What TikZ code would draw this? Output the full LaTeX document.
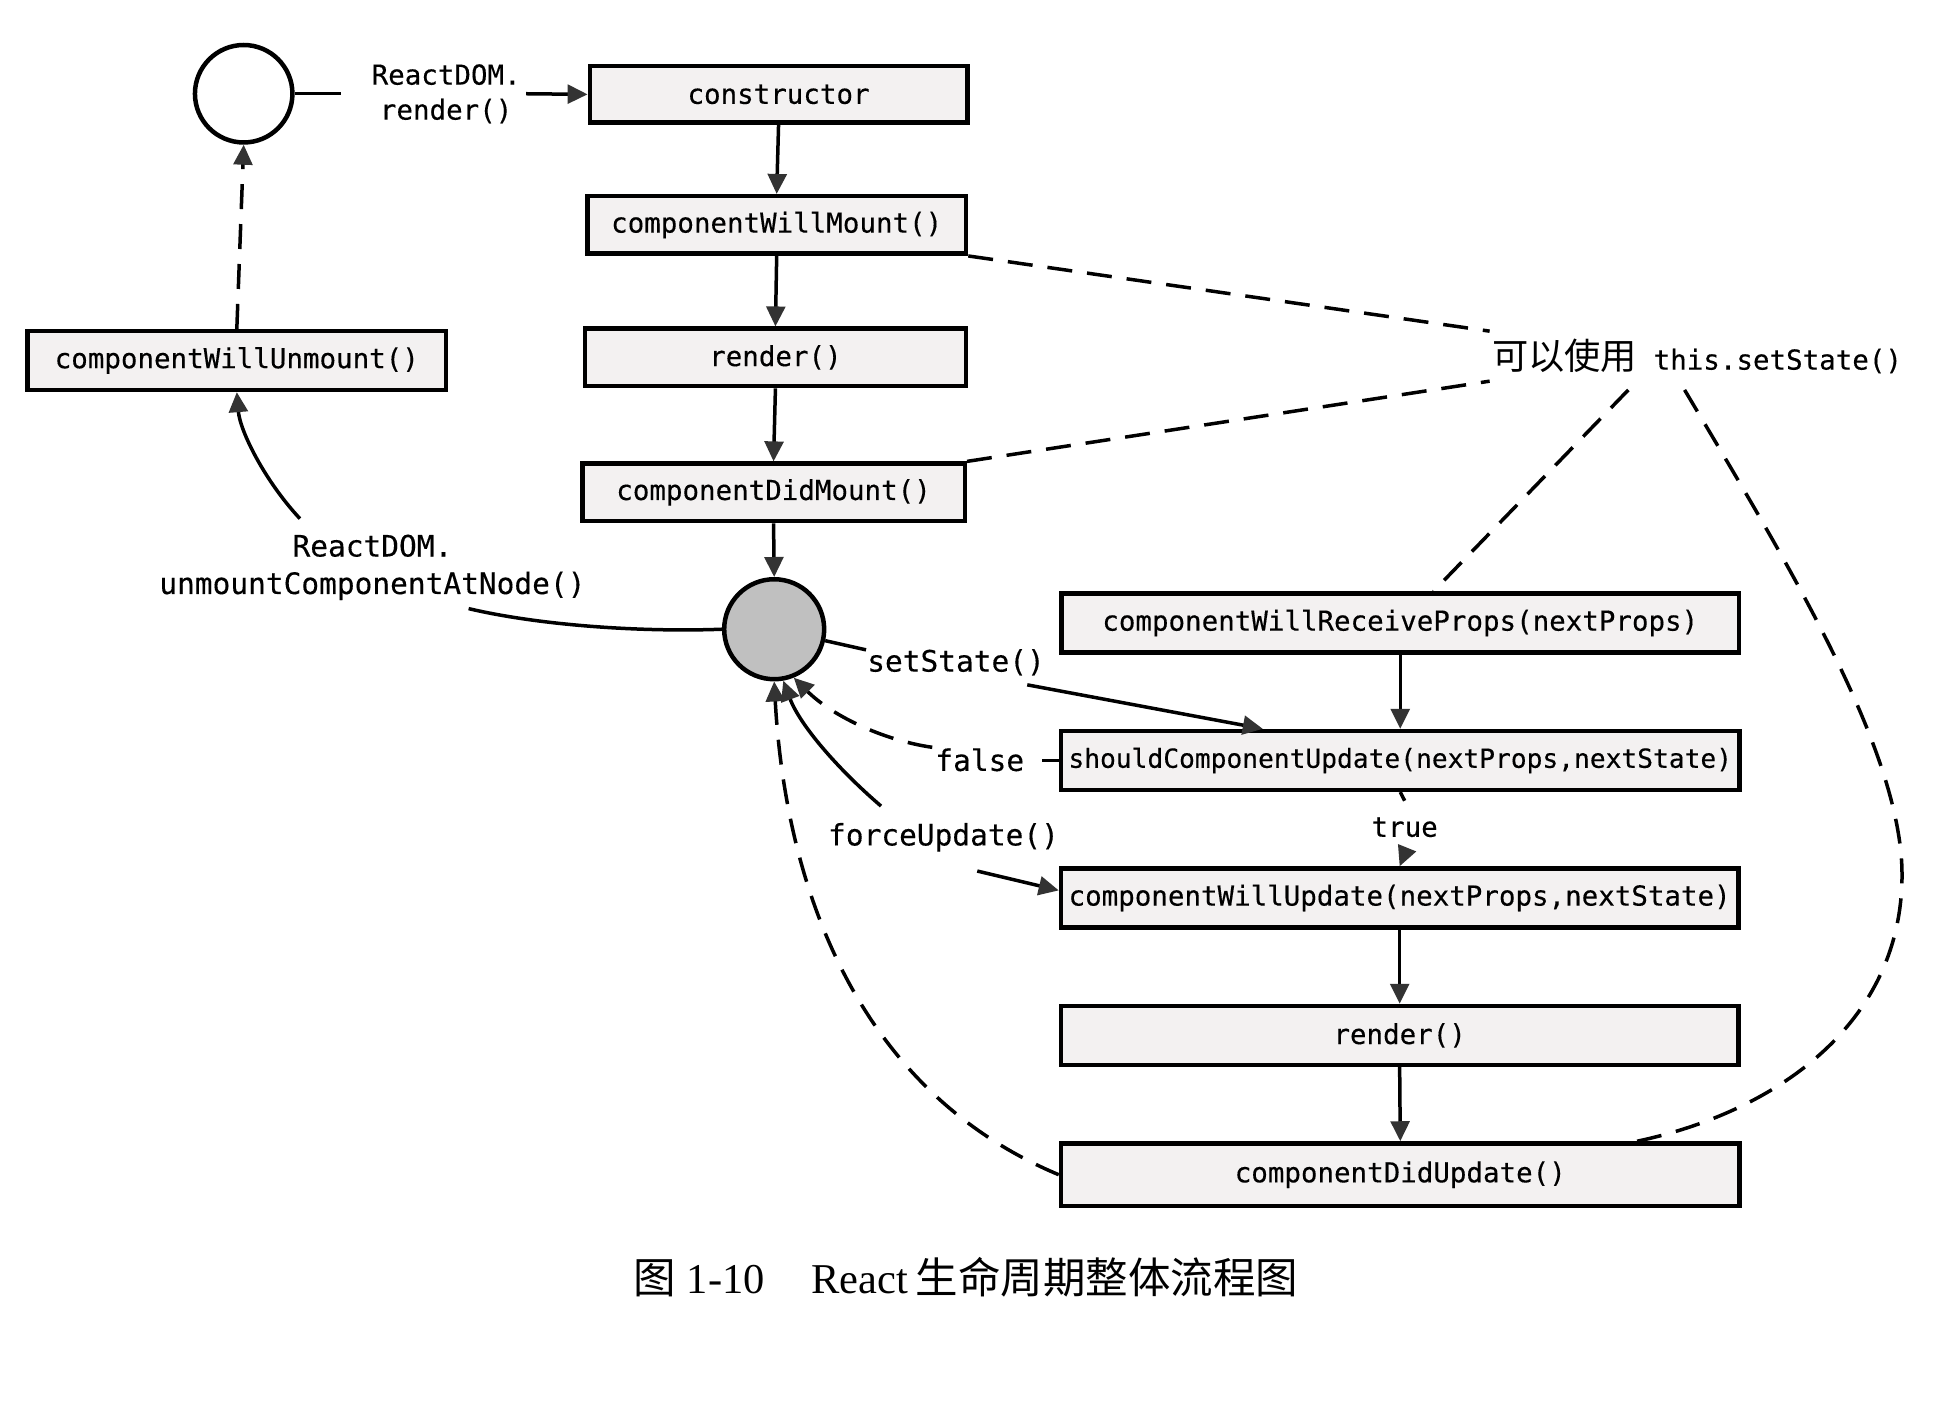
\documentclass[tikz,border=0pt]{standalone}
\usepackage{fontspec}
\setmainfont{Liberation Serif}
\setmonofont[FakeBold=0.3]{DejaVu Sans Mono}
\newfontfamily\cjk{Noto Sans CJK SC}
\usetikzlibrary{arrows.meta}
\definecolor{boxfill}{HTML}{F3F1F1}
\definecolor{circfill}{HTML}{C0C0C0}
\definecolor{tipgray}{HTML}{333333}
\begin{document}
\begin{tikzpicture}[x=0.5pt,y=-0.5pt,
  every node/.style={font=\fontsize{11}{14}\selectfont\ttfamily},
  box/.style={draw, line width=1.8pt, fill=boxfill, inner sep=0pt, minimum height=23pt},
  lbl/.style={inner sep=2pt, align=center},
  big/.style={font=\fontsize{11.8}{15}\selectfont\ttfamily},
  conn/.style={line width=1.4pt},
  arr/.style={conn, -{Triangle[length=8pt,width=7.5pt,color=tipgray]}},
  dsh/.style={conn, dash pattern=on 10pt off 6pt},
]
\fill[white] (0,0) rectangle (1562,1126.4);
\useasboundingbox (0,0) rectangle (1562,1126.4);

% mounting column
\node[draw, circle, line width=1.8pt, minimum size=39pt, inner sep=0pt] (c0) at (195,75) {};
\node[lbl] (rdr) at (357,75) {ReactDOM.\\render()};
\node[box, minimum width=151pt, minimum height=22.5pt] (ctor) at (623,75.5) {constructor};
\node[box, minimum width=151.5pt] (cwm) at (621.5,180) {componentWillMount()};
\node[box, minimum width=152.5pt] (rnd) at (620.5,286) {render()};
\node[box, minimum width=153pt] (cdm) at (619,394) {componentDidMount()};
\node[draw, circle, fill=circfill, line width=1.8pt, minimum size=40pt, inner sep=0pt] (gc) at (619.5,503.5) {};

% unmount
\node[box, minimum width=167.5pt, minimum height=23.5pt] (cwu) at (189.5,288.5) {componentWillUnmount()};
\node[lbl, big] (um) at (298,454) {ReactDOM.\\unmountComponentAtNode()};

% setState label
\node[lbl] (st) at (1358,285) {{\cjk\fontsize{14.5}{16}\selectfont 可以使用} this.setState()};

% update column
\node[box, minimum width=271pt, minimum height=23.5pt] (cwrp) at (1120.5,498.5) {componentWillReceiveProps(nextProps)};
\node[box, minimum width=271.5pt, minimum height=23.5pt, font=\fontsize{10.5}{13}\selectfont\ttfamily] (scu) at (1120.5,608.5) {shouldComponentUpdate(nextProps,nextState)};
\node[box, minimum width=271pt, minimum height=23.5pt] (cwup) at (1120,718.5) {componentWillUpdate(nextProps,nextState)};
\node[box, minimum width=271pt, minimum height=23.5pt] (rnd2) at (1120,828.5) {render()};
\node[box, minimum width=271.5pt, minimum height=25pt] (cdu) at (1120.5,940) {componentDidUpdate()};

% small labels
\node[lbl, big] (ss) at (765,530) {setState()};
\node[lbl, big] (fl) at (784,608) {false};
\node[lbl, big] (fu) at (755,670) {forceUpdate()};
\node[inner xsep=2pt, inner ysep=6.5pt] (tr) at (1124,662) {true};

% free ends near labels
\coordinate (umA) at (240,415);
\coordinate (umB) at (375,487);
\coordinate (ss1) at (693,520);
\coordinate (ss2) at (822,548);
\coordinate (fl1) at (834,608.5);
\coordinate (fl2) at (746,598);
\coordinate (fu1) at (705,645);
\coordinate (fu2) at (782,697);
\coordinate (st1) at (1192,265);
\coordinate (st2) at (1192,305);
\coordinate (st3) at (1303,312);
\coordinate (st4) at (1348,312);

% mounting connectors
\draw[conn] (c0) -- ([xshift=-10pt]rdr.west);
\draw[arr] (rdr.east) -- (ctor.west);
\draw[arr] (ctor.south) -- (cwm.north);
\draw[arr] (cwm.south) -- (rnd.north);
\draw[arr] (rnd.south) -- (cdm.north);
\draw[arr] (cdm.south) -- (gc.north);

% unmount connectors
\draw[conn] (gc.west) .. controls (510,506) and (430,500) .. (umB);
\draw[arr] (umA) .. controls (212,385) and (192,345) .. (cwu.south);
\draw[arr,dsh] (cwu.north) -- (c0.south);

% setState usage lines
\draw[dsh] (cwm.south east) -- (st1);
\draw[dsh] (cdm.north east) -- (st2);
\draw[dsh] (st3) -- ([xshift=13.25pt]cwrp.north);
\draw[dsh] (st4) .. controls (1430,450) and (1522,600) .. (1522,700)
  .. controls (1522,820) and (1420,890) .. ([xshift=94.75pt]cdu.north);

% update flow
\draw[conn] (gc) -- (ss1);
\draw[arr] (ss2) -- ([xshift=-55pt]scu.north);
\draw[dsh] (scu.west) -- (fl1);
\draw[arr,dsh] (fl2) .. controls (705,592) and (665,572) .. (gc.-68);
\draw[arr] (fu1) .. controls (670,615) and (640,580) .. (gc.-80);
\draw[arr] (fu2) -- ([yshift=3pt]cwup.west);
\draw[arr] (cwrp.south) -- (scu.north);
\draw[conn] (scu.south) -- (tr.north);
\draw[arr] (tr.south) -- (cwup.north);
\draw[arr] (cwup.south) -- (rnd2.north);
\draw[arr] (rnd2.south) -- (cdu.north);
\draw[arr,dsh] (cdu.west) .. controls (680,870) and (628,700) .. (gc.south);

% caption
\node[font=\fontsize{17}{20}\selectfont\rmfamily, inner sep=0pt] (cap) at (773,1022)
  {{\cjk 图} 1-10\hspace{1.1em}React\hspace{3pt}{\cjk 生命周期整体流程图}};
\end{tikzpicture}
\end{document}
